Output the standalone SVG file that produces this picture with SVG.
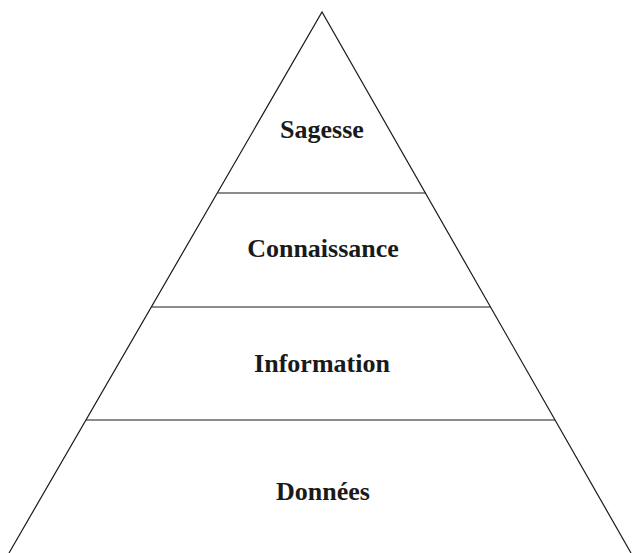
<svg xmlns="http://www.w3.org/2000/svg" width="632" height="553" viewBox="0 0 632 553">
<style>
.e{stroke:#1a1a1a;stroke-width:1.2;fill:none}
.t{font-family:"Liberation Serif","Times New Roman",serif;font-weight:bold;font-size:26px;fill:#1a1a1a;text-anchor:middle}
</style>
<rect width="632" height="553" fill="#fff"/>
<g id="connectors">
<polyline class="e" points="9,553 322,12 631,553"/>
<line class="e" x1="217.5" y1="193" x2="425.5" y2="193"/>
<line class="e" x1="151.5" y1="307" x2="490.5" y2="307"/>
<line class="e" x1="86" y1="420" x2="555" y2="420"/>
</g>
<g id="sagesse"><text class="t" x="322" y="138">Sagesse</text></g>
<g id="connaissance"><text class="t" x="323" y="257">Connaissance</text></g>
<g id="information"><text class="t" x="322" y="372">Information</text></g>
<g id="donnees"><text class="t" x="323" y="500">Données</text></g>
</svg>
